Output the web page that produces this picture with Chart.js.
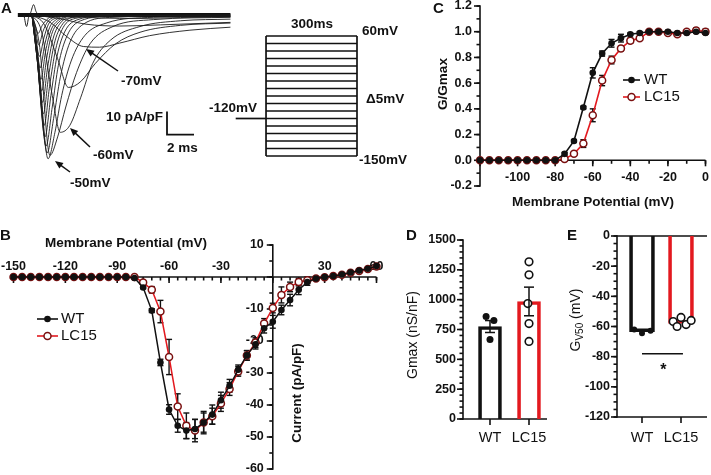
<!DOCTYPE html>
<html>
<head>
<meta charset="utf-8">
<script src="https://cdn.jsdelivr.net/npm/chart.js@4.4.1/dist/chart.umd.min.js"></script>
<style>
html, body { margin: 0; padding: 0; background: #fff; }
#wrap { position: relative; width: 711px; height: 475px; overflow: hidden; }
#wrap canvas { position: absolute; left: 0; top: 0; }
</style>
</head>
<body>
<div id="wrap">
  <canvas id="cA" width="711" height="475"></canvas>
  <canvas id="cP" width="711" height="475"></canvas>
  <canvas id="cB" width="711" height="475"></canvas>
  <canvas id="cC" width="711" height="475"></canvas>
  <canvas id="cD" width="711" height="475"></canvas>
  <canvas id="cE" width="711" height="475"></canvas>
</div>
<script>
// ---- Panel A: example traces, [time ms, current pA/pF]
const traceMv = [-80, -75, -70, -65, -60, -55, -50, -45, -40, -35, -30, -25, -20, -15, -10, -5, 0, 5, 10];
const traces = [
  [[0,0],[2.5,-0.5],[5,-1.3],[8,-1.5],[11,-1.1],[14.7,-0.8]],
  [[0,0],[2,-1.5],[4,-4],[6.5,-4.8],[9.5,-4.3],[14.7,-3.2]],
  [[0,0],[1.3,-3],[2.6,-9.5],[3.8,-13.7],[5,-14],[6.5,-12.2],[8.7,-9],[11.7,-6.6],[14.7,-5.3]],
  [[0,0],[0.9,-4],[1.9,-19],[2.7,-31.5],[3.6,-29],[4.7,-21],[6.2,-12.5],[8,-7.5],[11,-4.5],[14.7,-3.5]],
  [[0,0],[0.7,-7],[1.5,-35],[2.1,-51],[2.8,-48],[3.6,-36],[4.5,-21],[5.8,-11],[8,-5],[11,-2.5],[14.7,-1.8]],
  [[0,0],[0.55,-13],[1.33,-61],[1.9,-53],[2.5,-40],[3.3,-25],[4.3,-12.5],[6,-5],[9,-2],[14.7,-1]],
  [[0,0],[0.45,-18],[1.19,-62.5],[1.7,-51],[2.2,-35],[2.9,-20],[3.9,-9],[5.5,-3.5],[9,-1],[14.7,-0.5]],
  [[0,0],[0.45,-20],[1.12,-60],[1.6,-45],[2.1,-27],[2.8,-12],[3.8,-4],[6,-1],[14.7,0]],
  [[0,0],[0.42,-20],[1.04,-57],[1.5,-40],[1.95,-22],[2.6,-9],[3.6,-2.5],[6,-0.5],[14.7,0]],
  [[0,0],[0.4,-20],[0.96,-53],[1.4,-35],[1.85,-18],[2.45,-7],[3.4,-2],[6,0]],
  [[0,0],[0.38,-19],[0.9,-48],[1.3,-31],[1.75,-15],[2.3,-5.5],[3.2,-1.5],[6,0]],
  [[0,0],[0.36,-18],[0.84,-43],[1.22,-27],[1.65,-12.5],[2.2,-4.5],[3.1,-1],[6,0]],
  [[0,0],[0.34,-17],[0.78,-38],[1.15,-23],[1.55,-10.5],[2.1,-3.5],[3,-1],[6,0]],
  [[0,0],[0.32,-15],[0.72,-33],[1.08,-19],[1.45,-8.5],[2,-3],[2.9,-0.5],[6,0]],
  [[0,0],[0.3,-13],[0.66,-28],[1.0,-16],[1.38,-7],[1.9,-2.5],[2.8,-0.5],[6,0]],
  [[0,0],[0.28,-11],[0.6,-23],[0.94,-13],[1.3,-5.5],[1.8,-2],[2.7,0],[6,0]],
  [[0,0],[0.26,-9],[0.55,-18],[0.88,-10],[1.22,-4],[1.7,-1.5],[2.6,0]],
  [[0,0],[0.24,-6],[0.5,-13],[0.82,-7],[1.15,-3],[1.6,-1],[2.5,0]],
  [[0,0],[0.22,-4],[0.45,-8],[0.76,-4.5],[1.1,-2],[1.5,-0.5],[2.4,0]]
];
const baselineTrace = [[-1.05,0],[14.7,0]];
const capTransient = [[-0.6,0],[-0.4,-5],[-0.25,-1],[-0.1,1],[0.12,4.5],[0.3,1.5],[0.5,0]];
const scaleBar = [[10,-42],[10,-52],[12,-52]];   // 10 pA/pF x 2 ms

// ---- Panel A: step protocol (schematic rows)
const protocolRows = [0, 1, 2, 3, 4, 5, 6, 7, 8, 9, 10, 11, 12, 13, 14, 15, 16];
const holdRow = 5;
const stepMs = 300;
const holdFromMs = -100;

// ---- Panel B: I-V relation
const ivMv = [-150,-145,-140,-135,-130,-125,-120,-115,-110,-105,-100,-95,-90,-85,-80,
  -75,-70,-65,-60,-55,-50,-45,-40,-35,-30,-25,-20,-15,-10,-5,0,5,10,15,20,25,30,35,40,45,50,55,60];
const ivWT = [0,0,0,0,0,0,0,0,0,0,0,0,0,0,-0.3,
  -3.3,-10.5,-26.7,-41.4,-46.5,-48,-47.5,-45.5,-43,-38.5,-34,-29,-24.5,-21,-16,-14,-10.3,-7.2,-4,-1.6,-0.5,0,0.3,0.8,1.4,2,2.6,3.4];
const ivWTsem = [0,0,0,0,0,0,0,0,0,0,0,0,0,0,0,
  0.3,0.6,1,1.5,2,2.5,3,3,3,2.5,2,1.5,1.5,1.5,1.5,2,1.5,1.8,1.5,1,0.5,0.3,0.3,0.3,0.3,0.3,0.3,0.3];
const ivLC15 = [0,0,0,0,0,0,0,0,0,0,0,0,0,0,0,
  -1.7,-4,-10.8,-25,-40.5,-46.5,-48,-45.5,-43.5,-39.5,-35,-29.5,-24.5,-20.5,-14.5,-9.7,-5.6,-3.1,-1.6,-1,-0.5,-0.1,0.3,0.7,1.3,1.9,2.5,3.3];
const ivLC15sem = [0,0,0,0,0,0,0,0,0,0,0,0,0,0,0,
  0.5,1,3.5,5.5,4,4,3.5,3.5,2.5,2.5,2,1.5,1.5,1.5,1.5,1.5,2.5,1.5,1.2,1,0.5,0.3,0.3,0.3,0.3,0.3,0.3,0.3];
const ivXTicks = [-150, -120, -90, -60, -30, 30, 60];
const ivYTicks = [10, -10, -20, -30, -40, -50, -60];

// ---- Panel C: normalised conductance
const gvMv = [-120,-115,-110,-105,-100,-95,-90,-85,-80,-75,-70,-65,-60,-55,-50,-45,-40,-35,-30,-25,-20,-15,-10,-5,0];
const gvWT = [0,0,0,0,0,0,0,0,0,0.05,0.15,0.41,0.68,0.83,0.91,0.95,0.98,0.99,1.0,1.0,1.0,0.99,0.99,1.0,0.99];
const gvWTsem = [0,0,0,0,0,0,0,0,0,0.01,0.01,0.01,0.04,0.02,0.03,0.03,0.01,0.01,0.005,0.005,0.005,0.005,0.005,0.01,0.01];
const gvLC15 = [0,0,0,0,0,0,0,0,0,0.01,0.05,0.13,0.35,0.62,0.78,0.87,0.93,0.95,1.0,1.0,0.99,0.98,1.0,1.01,1.0];
const gvLC15sem = [0,0,0,0,0,0,0,0,0,0.005,0.01,0.03,0.05,0.04,0.03,0.02,0.02,0.01,0.01,0.005,0.005,0.01,0.01,0.02,0.02];
const gvXTicks = [-100, -80, -60, -40, -20, 0];
const gvYTicks = [-0.2, 0, 0.2, 0.4, 0.6, 0.8, 1.0, 1.2];

// ---- Panels D and E: per-cell values
const groups = ['WT', 'LC15'];
const gmaxWT = [858, 825, 667];
const gmaxLC15 = [1317, 1208, 967, 800, 650];
const gmaxMean = [775, 985];
const gmaxSem = [50, 120];
const gmaxJitterWT = [-0.1, 0.1, 0];
const gmaxJitterLC15 = [0, 0, -0.03, 0, 0];
const gmaxTicks = [0, 250, 500, 750, 1000, 1250, 1500];

const gv50WT = [-62, -64.5, -62.8];
const gv50LC15 = [-56.7, -54, -60, -58.7, -56];
const gv50Mean = [-63.5, -58];
const gv50JitterWT = [-0.2, 0, 0.22];
const gv50JitterLC15 = [-0.2, 0, -0.1, 0.13, 0.26];
const gv50Ticks = [0, -20, -40, -60, -80, -100, -120];
const sigLevel = -78;

// ---------------------------------------------------------------
const W = 711, H = 475;
const FONT = '"Liberation Sans", Arial, Helvetica, sans-serif';
const INK = '#111111';
const RED = '#e3191f';
const LC_EDGE = '#7a1010';
const TICK = `bold 12.5px ${FONT}`;
const TITLE = `bold 13.5px ${FONT}`;
const LEG = `15px ${FONT}`;
const LETTER = `bold 15px ${FONT}`;

const pts = (xs, ys) => xs.map((x, i) => ({x, y: ys[i]}));
const pairs = arr => arr.map(p => ({x: p[0], y: p[1]}));
const steps = (a, b, s) => { const r = []; for (let v = a; v <= b + 1e-9; v += s) r.push(+v.toFixed(4)); return r; };

function line(ctx, x1, y1, x2, y2) {
  ctx.beginPath(); ctx.moveTo(x1, y1); ctx.lineTo(x2, y2); ctx.stroke();
}

function text(ctx, s, x, y, font, align) {
  ctx.save();
  ctx.fillStyle = INK; ctx.font = font; ctx.textAlign = align || 'left'; ctx.textBaseline = 'middle';
  ctx.fillText(s, x, y);
  ctx.restore();
}

function vtext(ctx, s, x, y, font) {
  ctx.save();
  ctx.translate(x, y); ctx.rotate(-Math.PI / 2);
  ctx.fillStyle = INK; ctx.font = font; ctx.textAlign = 'center'; ctx.textBaseline = 'middle';
  ctx.fillText(s, 0, 0);
  ctx.restore();
}

function arrow(ctx, x1, y1, x2, y2) {
  const a = Math.atan2(y2 - y1, x2 - x1), L = 8, w = 3.5;
  const c = Math.cos(a), s = Math.sin(a);
  ctx.save();
  ctx.strokeStyle = INK; ctx.fillStyle = INK; ctx.lineWidth = 1.5;
  line(ctx, x1, y1, x2 - L * 0.7 * c, y2 - L * 0.7 * s);
  ctx.beginPath();
  ctx.moveTo(x2, y2);
  ctx.lineTo(x2 - L * c + w * s, y2 - L * s - w * c);
  ctx.lineTo(x2 - L * c - w * s, y2 - L * s + w * c);
  ctx.closePath(); ctx.fill();
  ctx.restore();
}

// horizontal axis line at a y value (or pixel row)
function hAxis(chart, o) {
  const ctx = chart.ctx, sx = chart.scales.x, sy = chart.scales.y;
  const py = o.atPx != null ? o.atPx : sy.getPixelForValue(o.at);
  const x0 = o.fromPx != null ? o.fromPx : sx.getPixelForValue(o.from);
  const x1 = o.toPx != null ? o.toPx : sx.getPixelForValue(o.to);
  ctx.save();
  ctx.strokeStyle = INK; ctx.lineWidth = 1.6;
  line(ctx, x0 - 0.8, py, x1, py);
  (o.minor || []).forEach(v => { const px = sx.getPixelForValue(v); line(ctx, px, py, px, py + 3.5); });
  (o.major || []).forEach(v => { const px = sx.getPixelForValue(v); line(ctx, px, py, px, py + 6); });
  ctx.fillStyle = INK; ctx.font = o.font || TICK; ctx.textAlign = 'center'; ctx.textBaseline = 'middle';
  (o.labels || []).forEach(v => ctx.fillText(o.fmt ? o.fmt(v) : String(v), sx.getPixelForValue(v), py + o.labelOff));
  ctx.restore();
}

// vertical axis line at an x value (or pixel column), ticks to the left
function vAxis(chart, o) {
  const ctx = chart.ctx, sx = chart.scales.x, sy = chart.scales.y;
  const px = o.atPx != null ? o.atPx : sx.getPixelForValue(o.at);
  const y0 = sy.getPixelForValue(o.from), y1 = sy.getPixelForValue(o.to);
  ctx.save();
  ctx.strokeStyle = INK; ctx.lineWidth = 1.6;
  line(ctx, px, y0 + 0.8, px, y1 - 0.8);
  (o.minor || []).forEach(v => { const py = sy.getPixelForValue(v); line(ctx, px, py, px - 3.5, py); });
  (o.major || []).forEach(v => { const py = sy.getPixelForValue(v); line(ctx, px, py, px - 6, py); });
  ctx.fillStyle = INK; ctx.font = TICK; ctx.textAlign = 'right'; ctx.textBaseline = 'middle';
  (o.labels || []).forEach(v => ctx.fillText(o.fmt ? o.fmt(v) : String(v), px - o.labelOff, sy.getPixelForValue(v)));
  ctx.restore();
}

function errorBars(chart, dsIndex, sems, cap) {
  const ctx = chart.ctx, sy = chart.scales.y;
  const meta = chart.getDatasetMeta(dsIndex);
  const data = chart.data.datasets[dsIndex].data;
  ctx.save();
  ctx.strokeStyle = INK; ctx.lineWidth = 1.4;
  meta.data.forEach((el, i) => {
    const e = sems[i];
    if (!e) return;
    const m = data[i].y, x = el.x;
    const yt = sy.getPixelForValue(m + e), yb = sy.getPixelForValue(m - e);
    line(ctx, x, yt, x, yb);
    line(ctx, x - cap, yt, x + cap, yt);
    line(ctx, x - cap, yb, x + cap, yb);
  });
  ctx.restore();
}

function marker(ctx, x, y, open) {
  ctx.save();
  ctx.beginPath(); ctx.arc(x, y, open ? 3.5 : 3.3, 0, Math.PI * 2);
  if (open) { ctx.fillStyle = '#fff'; ctx.fill(); ctx.lineWidth = 1.5; ctx.strokeStyle = LC_EDGE; ctx.stroke(); }
  else { ctx.fillStyle = INK; ctx.fill(); }
  ctx.restore();
}

function legendRow(ctx, x0, x1, y, color, open, label, tx) {
  ctx.save();
  ctx.strokeStyle = color; ctx.lineWidth = 1.6;
  line(ctx, x0, y, x1, y);
  ctx.restore();
  marker(ctx, (x0 + x1) / 2, y, open);
  text(ctx, label, tx, y, LEG);
}

function makeChart(id, type, area, xr, yr, datasets, deco) {
  return new Chart(document.getElementById(id), {
    type: type,
    data: {datasets: datasets},
    options: {
      responsive: false, animation: false, devicePixelRatio: 1, events: [],
      layout: {padding: {left: area[0], top: area[1], right: W - area[2], bottom: H - area[3]}},
      plugins: {legend: {display: false}, tooltip: {enabled: false}},
      scales: {
        x: {type: 'linear', display: false, min: xr[0], max: xr[1], offset: false},
        y: {type: 'linear', display: false, min: yr[0], max: yr[1]}
      }
    },
    plugins: [{
      id: id + 'Deco',
      beforeDatasetsDraw: chart => { if (deco.before) deco.before(chart); },
      afterDatasetsDraw: chart => { if (deco.after) deco.after(chart); }
    }]
  });
}

// ---- Panel A traces
const traceSets = traces.map((tr, i) => ({
  label: traceMv[i] + ' mV', data: pairs(tr), borderColor: '#1c1c1c', borderWidth: 0.9,
  pointRadius: 0, cubicInterpolationMode: 'monotone', clip: false
}));
traceSets.push({data: pairs(capTransient), borderColor: '#1c1c1c', borderWidth: 1, pointRadius: 0, cubicInterpolationMode: 'monotone', clip: false});
traceSets.push({data: pairs(baselineTrace), borderColor: INK, borderWidth: 4, pointRadius: 0, clip: false});
traceSets.push({data: pairs(scaleBar), borderColor: INK, borderWidth: 1.8, pointRadius: 0, clip: false});

makeChart('cA', 'line', [17.15, 3.5, 230.45, 164.5], [-1.1, 14.7], [-65, 5], traceSets, {
  after: chart => {
    const ctx = chart.ctx;
    const ann = `bold 13.5px ${FONT}`;
    text(ctx, 'A', 1, 9, LETTER);
    text(ctx, '-70mV', 121, 81, ann);
    text(ctx, '-60mV', 93, 155, ann);
    text(ctx, '-50mV', 70, 183, ann);
    arrow(ctx, 118, 71, 86, 49);
    arrow(ctx, 90, 147, 70, 128);
    arrow(ctx, 70, 172, 55, 161);
    text(ctx, '10 pA/pF', 106, 117, ann);
    text(ctx, '2 ms', 167, 148, ann);
  }
});

// ---- Panel A protocol
const protoSets = protocolRows.map(r => ({
  data: [{x: 0, y: r}, {x: stepMs, y: r}], borderColor: INK, borderWidth: 1.7, pointRadius: 0, clip: false
}));
protoSets.push({data: [{x: 0, y: protocolRows[0]}, {x: 0, y: protocolRows[protocolRows.length - 1]}], borderColor: INK, borderWidth: 1.7, pointRadius: 0, clip: false});
protoSets.push({data: [{x: stepMs, y: protocolRows[0]}, {x: stepMs, y: protocolRows[protocolRows.length - 1]}], borderColor: INK, borderWidth: 1.7, pointRadius: 0, clip: false});
protoSets.push({data: [{x: holdFromMs, y: holdRow}, {x: 0, y: holdRow}], borderColor: INK, borderWidth: 1.7, pointRadius: 0, clip: false});

makeChart('cP', 'line', [235.7, 36, 357, 156], [-100, 300], [0, 16], protoSets, {
  after: chart => {
    const ctx = chart.ctx;
    const ann = `bold 13.5px ${FONT}`;
    text(ctx, '300ms', 312, 24, ann, 'center');
    text(ctx, '60mV', 362, 31, ann);
    text(ctx, '\u03945mV', 366, 99, ann);
    text(ctx, '-150mV', 359, 160, ann);
    text(ctx, '-120mV', 209, 108, ann);
  }
});

// ---- Panel B
makeChart('cB', 'line', [13.5, 245, 376.5, 469], [-150, 60], [-60, 10], [
  {data: pts(ivMv, ivWT), borderColor: INK, borderWidth: 1.5, pointRadius: 3.3, pointBackgroundColor: INK, pointBorderColor: INK, pointBorderWidth: 0, clip: false},
  {data: pts(ivMv, ivLC15), borderColor: RED, borderWidth: 1.5, pointRadius: 3.5, pointBackgroundColor: '#fff', pointBorderColor: LC_EDGE, pointBorderWidth: 1.5, clip: false}
], {
  before: chart => {
    hAxis(chart, {at: 0, from: -150, to: 60, major: steps(-150, 60, 30), minor: steps(-150, 60, 5), labels: ivXTicks, labelOff: -10});
    vAxis(chart, {at: 0, from: -60, to: 10, major: steps(-60, 10, 10), minor: steps(-60, 10, 5), labels: ivYTicks, labelOff: 9});
    errorBars(chart, 1, ivLC15sem, 3);
    errorBars(chart, 0, ivWTsem, 3);
    const ctx = chart.ctx;
    text(ctx, 'B', 0, 236, LETTER);
    text(ctx, 'Membrane Potential (mV)', 126, 243, TITLE, 'center');
    vtext(ctx, 'Current (pA/pF)', 297, 393, TITLE);
  },
  after: chart => {
    const ctx = chart.ctx;
    legendRow(ctx, 37, 58, 319, INK, false, 'WT', 61);
    legendRow(ctx, 37, 58, 336, RED, true, 'LC15', 61);
  }
});

// ---- Panel C
makeChart('cC', 'line', [480, 6, 706, 186], [-120, 0], [-0.2, 1.2], [
  {data: pts(gvMv, gvWT), borderColor: INK, borderWidth: 1.6, pointRadius: 3.3, pointBackgroundColor: INK, pointBorderColor: INK, pointBorderWidth: 0, clip: false},
  {data: pts(gvMv, gvLC15), borderColor: RED, borderWidth: 1.6, pointRadius: 3.5, pointBackgroundColor: '#fff', pointBorderColor: LC_EDGE, pointBorderWidth: 1.5, clip: false}
], {
  before: chart => {
    vAxis(chart, {at: -120, from: -0.2, to: 1.2, major: steps(-0.2, 1.2, 0.2), minor: steps(-0.2, 1.2, 0.1), labels: gvYTicks, labelOff: 8, fmt: v => v.toFixed(1)});
    hAxis(chart, {at: 0, from: -120, to: 0, major: steps(-120, 0, 20), minor: steps(-120, 0, 10), labels: gvXTicks, labelOff: 17.5});
    errorBars(chart, 1, gvLC15sem, 3);
    errorBars(chart, 0, gvWTsem, 3);
    const ctx = chart.ctx;
    text(ctx, 'C', 433, 9, LETTER);
    text(ctx, 'Membrane Potential (mV)', 593, 202, TITLE, 'center');
    vtext(ctx, 'G/Gmax', 443, 84, TITLE);
  },
  after: chart => {
    const ctx = chart.ctx;
    legendRow(ctx, 623, 640, 80, INK, false, 'WT', 644);
    legendRow(ctx, 623, 640, 97, RED, true, 'LC15', 644);
  }
});

// ---- Panel D
const barFill = 'rgba(255,255,255,0)';
makeChart('cD', 'bar', [470.5, 240, 548.5, 419], [-0.5, 1.5], [0, 1500], [
  {type: 'scatter', data: gmaxWT.map((v, i) => ({x: 0 + gmaxJitterWT[i], y: v})), pointRadius: 3.5, pointBackgroundColor: INK, pointBorderColor: INK, pointBorderWidth: 0, clip: false},
  {type: 'scatter', data: gmaxLC15.map((v, i) => ({x: 1 + gmaxJitterLC15[i], y: v})), pointRadius: 3.8, pointBackgroundColor: '#fff', pointBorderColor: INK, pointBorderWidth: 1.6, clip: false},
  {type: 'bar', data: gmaxMean.map((v, i) => ({x: i, y: v})), backgroundColor: barFill, borderColor: [INK, RED], borderWidth: 3, barThickness: 23, borderSkipped: 'start'}
], {
  before: chart => {
    vAxis(chart, {atPx: 463, from: 0, to: 1500, major: gmaxTicks, minor: steps(0, 1500, 50), labels: gmaxTicks, labelOff: 7});
    hAxis(chart, {at: 0, fromPx: 463, toPx: 547, major: [0, 1], labels: [0, 1], fmt: v => groups[v], labelOff: 19, font: `14.5px ${FONT}`});
    const ctx = chart.ctx;
    text(ctx, 'D', 406, 236, LETTER);
    vtext(ctx, 'Gmax (nS/nF)', 413, 335, `14px ${FONT}`);
  },
  after: chart => {
    const ctx = chart.ctx, sx = chart.scales.x, sy = chart.scales.y;
    ctx.save(); ctx.strokeStyle = INK; ctx.lineWidth = 1.5;
    gmaxMean.forEach((m, i) => {
      const x = sx.getPixelForValue(i), yt = sy.getPixelForValue(m + gmaxSem[i]), yb = sy.getPixelForValue(m - gmaxSem[i]);
      line(ctx, x, yt, x, yb);
      line(ctx, x - 5, yt, x + 5, yt);
      line(ctx, x - 5, yb, x + 5, yb);
    });
    ctx.restore();
  }
});

// ---- Panel E
makeChart('cE', 'bar', [622.5, 236, 700.5, 417], [-0.5, 1.5], [-120, 0], [
  {type: 'scatter', data: gv50WT.map((v, i) => ({x: 0 + gv50JitterWT[i], y: v})), pointRadius: 3, pointBackgroundColor: INK, pointBorderColor: INK, pointBorderWidth: 0, clip: false},
  {type: 'scatter', data: gv50LC15.map((v, i) => ({x: 1 + gv50JitterLC15[i], y: v})), pointRadius: 3.8, pointBackgroundColor: '#fff', pointBorderColor: INK, pointBorderWidth: 1.6, clip: false},
  {type: 'bar', data: gv50Mean.map((v, i) => ({x: i, y: v})), backgroundColor: barFill, borderColor: [INK, RED], borderWidth: 3, barThickness: 25, borderSkipped: 'start'}
], {
  before: chart => {
    vAxis(chart, {atPx: 617, from: -120, to: 0, major: gv50Ticks, minor: steps(-120, 0, 5), labels: gv50Ticks, labelOff: 7});
    hAxis(chart, {at: 0, fromPx: 617, toPx: 707});
    hAxis(chart, {at: -120, fromPx: 617, toPx: 707, major: [0, 1], labels: [0, 1], fmt: v => groups[v], labelOff: 21, font: `14.5px ${FONT}`});
    const ctx = chart.ctx;
    text(ctx, 'E', 567, 236, LETTER);
    // rotated title with subscript
    ctx.save();
    ctx.translate(575, 320); ctx.rotate(-Math.PI / 2);
    ctx.fillStyle = INK; ctx.textAlign = 'left'; ctx.textBaseline = 'alphabetic';
    const f1 = `14px ${FONT}`, f2 = `10px ${FONT}`;
    ctx.font = f1; const wG = ctx.measureText('G').width, wT = ctx.measureText(' (mV)').width;
    ctx.font = f2; const wS = ctx.measureText('V50').width;
    let x = -(wG + wS + wT) / 2;
    ctx.font = f1; ctx.fillText('G', x, 5); x += wG;
    ctx.font = f2; ctx.fillText('V50', x, 8); x += wS;
    ctx.font = f1; ctx.fillText(' (mV)', x, 5);
    ctx.restore();
  },
  after: chart => {
    const ctx = chart.ctx, sx = chart.scales.x, sy = chart.scales.y;
    ctx.save(); ctx.strokeStyle = INK; ctx.lineWidth = 1.5;
    const ys = sy.getPixelForValue(sigLevel);
    line(ctx, sx.getPixelForValue(0), ys, sx.getPixelForValue(1.05), ys);
    ctx.fillStyle = INK; ctx.font = `bold 16px ${FONT}`; ctx.textAlign = 'center'; ctx.textBaseline = 'alphabetic';
    ctx.fillText('*', sx.getPixelForValue(0.55), ys + 21);
    ctx.restore();
  }
});
</script>
</body>
</html>
